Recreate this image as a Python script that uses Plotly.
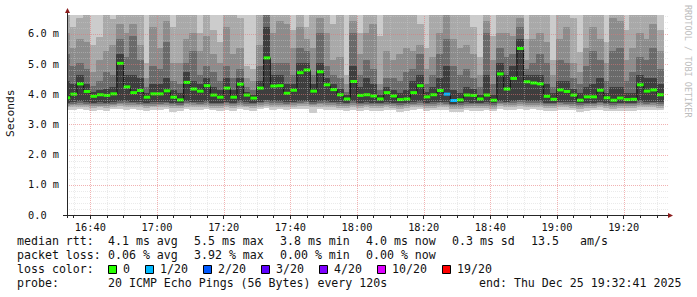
import plotly.graph_objects as go
import pandas as pd

# ---------------- data ----------------
interval_start = [t.strftime("%Y-%m-%d %H:%M:%S")
                  for t in pd.date_range("2025-12-25 16:32:00", periods=90, freq="2min")]
interval_end = [t.strftime("%Y-%m-%d %H:%M:%S")
                for t in pd.date_range("2025-12-25 16:34:00", periods=90, freq="2min")]
graph_start = "2025-12-25 16:33:00"
graph_end = "2025-12-25 19:33:00"

median_ms = [3.88, 4.00, 4.34, 4.09, 3.93, 3.98, 3.96, 4.01, 5.02, 4.24,
             4.05, 4.12, 3.90, 4.01, 4.01, 4.11, 3.90, 3.81, 4.39, 4.17,
             4.10, 4.28, 3.97, 3.90, 4.20, 3.90, 4.33, 3.97, 3.87, 4.20,
             5.20, 4.27, 4.28, 4.03, 4.13, 4.71, 4.80, 4.10, 4.74, 4.31,
             4.15, 3.98, 3.84, 4.42, 3.96, 3.98, 3.94, 3.84, 4.05, 3.94,
             3.82, 3.84, 4.05, 4.28, 3.91, 3.98, 4.12, 4.00, 3.79, 3.81,
             3.97, 3.96, 3.84, 3.97, 3.80, 4.67, 4.17, 4.52, 5.51, 4.41,
             4.37, 4.34, 3.93, 3.83, 4.14, 4.09, 3.97, 3.80, 3.91, 3.91,
             4.13, 3.88, 3.80, 3.87, 3.82, 3.83, 4.31, 4.10, 4.14, 3.98]

loss_pings = [0, 0, 0, 0, 0, 0, 0, 0, 0, 0,
              0, 0, 0, 0, 0, 0, 0, 0, 0, 0,
              0, 0, 0, 0, 0, 0, 0, 0, 0, 0,
              0, 0, 0, 0, 0, 0, 0, 0, 0, 0,
              0, 0, 0, 0, 0, 0, 0, 0, 0, 0,
              0, 0, 0, 0, 0, 0, 0, 1, 1, 0,
              0, 0, 0, 0, 0, 0, 0, 0, 0, 0,
              0, 0, 0, 0, 0, 0, 0, 0, 0, 0,
              0, 0, 0, 0, 0, 0, 0, 0, 0, 0]

# smoke: upper / lower edges of the ping bands (ms), outermost = 4, innermost = 0
up4 = [8.4, 7.9, 9.2, 8.8, 7.6, 8.1, 9.5, 7.8, 10.3, 8.9,
       9.6, 8.7, 7.4, 9.0, 8.6, 9.8, 7.9, 8.3, 9.1, 9.4,
       7.8, 8.9, 7.7, 7.5, 9.3, 8.2, 8.0, 7.3, 7.2, 9.0,
       11.2, 9.1, 9.6, 9.2, 7.9, 9.7, 8.1, 8.8, 10.1, 9.3,
       8.0, 8.7, 7.1, 9.9, 7.8, 8.9, 9.4, 7.6, 8.6, 8.8,
       9.0, 8.5, 8.8, 8.2, 7.4, 8.6, 9.4, 10.4, 9.1, 8.7,
       8.9, 7.9, 7.2, 9.8, 7.6, 9.5, 9.2, 9.0, 10.6, 7.7,
       9.1, 9.4, 8.8, 7.3, 9.0, 9.3, 8.2, 7.4, 8.9, 9.6,
       9.2, 7.6, 9.8, 9.6, 7.9, 8.7, 9.4, 9.0, 9.7, 8.0]
up3 = [7.10, 6.20, 6.50, 7.30, 5.60, 5.85, 7.20, 6.45, 7.60, 7.20,
       7.40, 7.10, 5.00, 7.30, 7.10, 7.50, 6.20, 7.00, 7.20, 7.30,
       6.00, 7.10, 6.10, 5.70, 7.40, 7.00, 6.50, 4.90, 4.80, 7.20,
       8.10, 7.20, 7.50, 7.30, 6.10, 7.40, 6.20, 7.10, 7.60, 7.20,
       6.30, 7.00, 4.60, 7.50, 6.00, 7.10, 7.30, 5.90, 7.00, 7.10,
       7.20, 7.00, 7.10, 6.30, 5.50, 7.00, 7.30, 7.80, 7.20, 7.00,
       7.10, 6.20, 5.20, 7.50, 5.90, 7.30, 7.20, 7.10, 7.70, 5.80,
       7.20, 7.30, 7.00, 5.10, 7.20, 7.30, 6.50, 5.35, 7.10, 7.40,
       7.20, 5.70, 7.50, 7.40, 6.10, 7.00, 7.30, 7.10, 7.40, 6.10]
up2 = [6.00, 5.50, 5.80, 5.70, 4.70, 5.10, 5.40, 5.60, 6.30, 6.00,
       6.30, 5.60, 4.50, 6.20, 5.50, 6.40, 5.00, 5.00, 5.80, 6.00,
       5.40, 5.90, 5.30, 5.00, 6.20, 5.30, 5.50, 4.50, 4.40, 5.60,
       7.00, 6.00, 6.40, 6.30, 5.50, 6.20, 5.80, 5.50, 6.50, 6.00,
       5.10, 5.20, 4.30, 6.40, 5.30, 6.00, 6.30, 4.30, 5.40, 5.10,
       5.30, 5.50, 5.40, 5.60, 4.80, 5.20, 6.00, 6.60, 5.80, 5.50,
       5.60, 5.30, 4.60, 6.40, 5.10, 6.00, 6.00, 5.90, 6.50, 5.10,
       5.80, 6.00, 5.70, 4.60, 5.80, 6.20, 5.00, 4.70, 5.50, 6.20,
       5.80, 5.00, 6.50, 6.40, 5.10, 5.50, 6.00, 5.80, 6.30, 5.40]
up1 = [5.30, 4.90, 5.00, 4.80, 4.25, 4.40, 4.70, 4.60, 5.80, 5.20,
       5.90, 5.10, 4.20, 4.90, 4.80, 5.70, 4.40, 4.30, 5.00, 5.40,
       4.60, 4.90, 4.70, 4.40, 4.90, 4.50, 4.80, 4.20, 4.10, 4.90,
       6.80, 5.00, 5.00, 5.00, 4.60, 5.50, 5.40, 4.60, 6.00, 4.90,
       4.60, 4.50, 4.05, 6.00, 4.60, 5.10, 4.80, 4.10, 4.50, 4.50,
       4.40, 4.70, 4.80, 5.30, 4.30, 4.60, 5.30, 5.80, 4.90, 4.60,
       4.80, 4.50, 4.20, 6.00, 4.30, 5.50, 5.20, 5.30, 6.20, 4.80,
       5.00, 5.30, 5.00, 4.20, 5.10, 5.00, 4.50, 4.30, 4.90, 5.40,
       5.10, 4.40, 5.40, 5.50, 4.40, 4.70, 5.20, 5.10, 5.50, 4.80]
up0 = [4.40, 4.30, 4.60, 4.30, 4.05, 4.10, 4.15, 4.20, 5.30, 4.60,
       4.60, 4.50, 4.00, 4.30, 4.30, 4.50, 4.10, 4.00, 4.70, 4.40,
       4.30, 4.50, 4.20, 4.10, 4.50, 4.10, 4.50, 4.05, 3.95, 4.40,
       6.20, 4.60, 4.60, 4.30, 4.30, 5.00, 5.00, 4.30, 5.00, 4.50,
       4.30, 4.15, 3.95, 4.90, 4.20, 4.50, 4.30, 3.95, 4.20, 4.10,
       4.00, 4.10, 4.40, 4.60, 4.05, 4.20, 4.50, 4.90, 4.10, 4.00,
       4.20, 4.15, 3.95, 4.60, 3.95, 5.00, 4.60, 4.90, 5.80, 4.60,
       4.60, 4.60, 4.30, 4.00, 4.40, 4.40, 4.15, 4.00, 4.20, 4.30,
       4.50, 4.00, 4.20, 4.20, 4.00, 4.00, 4.60, 4.50, 4.50, 4.30]
lo0 = [3.72, 3.74, 3.76, 3.74, 3.72, 3.73, 3.72, 3.74, 3.78, 3.76,
       3.75, 3.74, 3.71, 3.73, 3.74, 3.75, 3.71, 3.70, 3.77, 3.75,
       3.74, 3.76, 3.72, 3.71, 3.75, 3.72, 3.76, 3.73, 3.71, 3.75,
       3.80, 3.76, 3.76, 3.74, 3.75, 3.78, 3.79, 3.74, 3.78, 3.76,
       3.75, 3.73, 3.71, 3.77, 3.72, 3.73, 3.72, 3.71, 3.74, 3.72,
       3.70, 3.71, 3.74, 3.76, 3.72, 3.73, 3.75, 3.74, 3.69, 3.70,
       3.73, 3.72, 3.71, 3.73, 3.70, 3.78, 3.75, 3.77, 3.80, 3.76,
       3.76, 3.76, 3.72, 3.71, 3.75, 3.74, 3.73, 3.70, 3.72, 3.72,
       3.75, 3.72, 3.70, 3.72, 3.71, 3.71, 3.76, 3.74, 3.75, 3.73]
lo1 = [3.67, 3.69, 3.70, 3.69, 3.67, 3.68, 3.67, 3.69, 3.72, 3.70,
       3.70, 3.69, 3.66, 3.68, 3.69, 3.70, 3.66, 3.65, 3.71, 3.70,
       3.69, 3.70, 3.67, 3.66, 3.70, 3.67, 3.70, 3.68, 3.66, 3.70,
       3.74, 3.70, 3.70, 3.69, 3.70, 3.72, 3.73, 3.69, 3.72, 3.70,
       3.70, 3.68, 3.66, 3.71, 3.67, 3.68, 3.67, 3.66, 3.69, 3.67,
       3.65, 3.66, 3.69, 3.70, 3.67, 3.68, 3.70, 3.69, 3.64, 3.65,
       3.68, 3.67, 3.66, 3.68, 3.65, 3.72, 3.70, 3.71, 3.74, 3.70,
       3.70, 3.70, 3.67, 3.66, 3.70, 3.69, 3.68, 3.65, 3.67, 3.67,
       3.70, 3.67, 3.65, 3.67, 3.66, 3.66, 3.70, 3.69, 3.70, 3.68]
lo2 = [3.62, 3.63, 3.64, 3.64, 3.62, 3.62, 3.61, 3.64, 3.66, 3.65,
       3.64, 3.63, 3.61, 3.62, 3.64, 3.64, 3.60, 3.60, 3.66, 3.64,
       3.63, 3.65, 3.62, 3.60, 3.64, 3.61, 3.65, 3.62, 3.60, 3.64,
       3.68, 3.65, 3.64, 3.63, 3.65, 3.66, 3.67, 3.63, 3.66, 3.65,
       3.64, 3.62, 3.60, 3.65, 3.61, 3.63, 3.61, 3.60, 3.63, 3.61,
       3.59, 3.60, 3.63, 3.64, 3.61, 3.62, 3.64, 3.63, 3.58, 3.59,
       3.62, 3.61, 3.60, 3.62, 3.59, 3.66, 3.64, 3.65, 3.68, 3.64,
       3.64, 3.65, 3.61, 3.60, 3.64, 3.63, 3.62, 3.59, 3.61, 3.62,
       3.64, 3.61, 3.59, 3.61, 3.60, 3.60, 3.64, 3.63, 3.64, 3.62]
lo3 = [3.56, 3.57, 3.58, 3.57, 3.55, 3.56, 3.55, 3.58, 3.60, 3.58,
       3.58, 3.57, 3.54, 3.56, 3.57, 3.58, 3.53, 3.53, 3.59, 3.58,
       3.57, 3.58, 3.55, 3.54, 3.58, 3.55, 3.58, 3.56, 3.53, 3.58,
       3.61, 3.58, 3.58, 3.56, 3.58, 3.60, 3.60, 3.56, 3.59, 3.58,
       3.57, 3.55, 3.53, 3.58, 3.54, 3.56, 3.54, 3.53, 3.56, 3.55,
       3.52, 3.54, 3.56, 3.58, 3.54, 3.55, 3.57, 3.56, 3.51, 3.52,
       3.55, 3.54, 3.53, 3.55, 3.52, 3.60, 3.57, 3.58, 3.61, 3.57,
       3.58, 3.58, 3.54, 3.53, 3.57, 3.56, 3.55, 3.52, 3.54, 3.55,
       3.57, 3.54, 3.52, 3.54, 3.53, 3.53, 3.57, 3.56, 3.57, 3.55]
lo4 = [3.47, 3.49, 3.50, 3.46, 3.44, 3.48, 3.45, 3.50, 3.52, 3.49,
       3.50, 3.48, 3.43, 3.47, 3.49, 3.50, 3.42, 3.44, 3.51, 3.49,
       3.48, 3.50, 3.46, 3.44, 3.49, 3.45, 3.50, 3.47, 3.43, 3.50,
       3.53, 3.49, 3.50, 3.47, 3.50, 3.52, 3.51, 3.38, 3.50, 3.49,
       3.48, 3.46, 3.44, 3.49, 3.45, 3.47, 3.44, 3.43, 3.47, 3.46,
       3.40, 3.45, 3.47, 3.50, 3.45, 3.46, 3.48, 3.47, 3.41, 3.42,
       3.46, 3.45, 3.44, 3.46, 3.43, 3.51, 3.48, 3.49, 3.52, 3.48,
       3.50, 3.49, 3.45, 3.44, 3.48, 3.47, 3.46, 3.40, 3.45, 3.46,
       3.48, 3.45, 3.43, 3.45, 3.44, 3.44, 3.48, 3.47, 3.48, 3.46]

loss_labels = ["0", "1/20", "2/20", "3/20", "4/20", "10/20", "19/20"]
loss_colors = ["#26ff00", "#00b8ff", "#0059ff", "#5e00ff", "#7e00ff", "#dd00ff", "#ff0000"]

y_ticks = [0, 1, 2, 3, 4, 5, 6]
y_ticktext = ["0.0\u00a0\u00a0", "1.0 m", "2.0 m", "3.0 m", "4.0 m", "5.0 m", "6.0 m"]

legend_rows = [
    [("median rtt:", 16), ("4.1 ms avg", 107.3), ("5.5 ms max", 193.3), ("3.8 ms min", 279.3),
     ("4.0 ms now", 365), ("0.3 ms sd", 451), ("13.5", 530), ("am/s", 579.3)],
    [("packet loss:", 16), ("0.06 % avg", 107.3), ("3.92 % max", 193.3), ("0.00 % min", 279.3),
     ("0.00 % now", 365)],
    [("loss color:", 16)],
    [("probe:", 16), ("20 ICMP Echo Pings (56 Bytes) every 120s", 107.3),
     ("end: Thu Dec 25 19:32:41 2025", 478.3)],
]
legend_row_y = [241, 255, 269, 283.3]

# ---------------- geometry helpers ----------------
W, H = 697, 297
PL, PR, PT, PB = 67, 667, 15, 215
Y_MAX = 6.62
T0 = pd.Timestamp(graph_start)
T1 = pd.Timestamp(graph_end)


def fx(px):
    return (px - PL) / (PR - PL)


def fy(py):
    return (PB - py) / (PB - PT)


def val_to_py(v):
    return PB - v * (PB - PT) / Y_MAX


def time_to_px(t):
    return PL + (t - T0) / (T1 - T0) * (PR - PL)


MONO = "DejaVu Sans Mono"
fig = go.Figure()

band_colors = ["#cccccc", "#a9a9a9", "#8c8c8c", "#6a6a6a", "#3e3e3e"]
bands = [(lo4, up4), (lo3, up3), (lo2, up2), (lo1, up1), (lo0, up0)]
n = len(median_ms)
for (lo, hi), col in zip(bands, band_colors):
    fig.add_trace(go.Bar(
        x=interval_start, y=[h - l for h, l in zip(hi, lo)], base=lo,
        width=[120000] * n, offset=0,
        marker=dict(color=col, line=dict(width=1, color=col)),
        hoverinfo="skip", showlegend=False))

# median connecting step line
fig.add_trace(go.Scatter(
    x=interval_start + [interval_end[-1]], y=median_ms + [median_ms[-1]],
    mode="lines", line=dict(color="#141414", width=1, shape="hv"),
    hoverinfo="skip", showlegend=False))

# median marks coloured by loss (one trace per loss class, segments per interval)
for li, col in enumerate(loss_colors):
    xs, ys = [], []
    for s, e, m, l in zip(interval_start, interval_end, median_ms, loss_pings):
        if l == li:
            xs += [s, e, None]
            ys += [m, m, None]
    if xs:
        fig.add_trace(go.Scatter(x=xs, y=ys, mode="lines",
                                 line=dict(color=col, width=3),
                                 hoverinfo="skip", showlegend=False))

# ---------------- grid (drawn above the smoke like rrdtool) ----------------
shapes = []
minor_col = "rgba(205,205,205,0.42)"
major_col = "rgba(230,115,115,0.55)"
k = 1
while k * 0.2 < Y_MAX:
    v = round(k * 0.2, 2)
    is_major = abs(v - round(v)) < 1e-9
    yy = fy(round(val_to_py(v)) + 0.5)
    shapes.append(dict(type="line", xref="paper", yref="paper", x0=0, x1=fx(668), y0=yy, y1=yy,
                       line=dict(color=major_col if is_major else minor_col, width=1,
                                 dash="1px,1px"), layer="above"))
    k += 1
for t in pd.date_range("2025-12-25 16:35:00", "2025-12-25 19:30:00", freq="5min"):
    is_major = t.minute % 20 == 0
    xx = fx(round(time_to_px(t)) + 0.5)
    shapes.append(dict(type="line", xref="paper", yref="paper", x0=xx, x1=xx,
                       y0=0, y1=1,
                       line=dict(color=major_col if is_major else minor_col, width=1,
                                 dash="1px,1px"), layer="above"))

axis_col = "#262626"
arrow_col = "#8b1c1c"
# axis lines
shapes.append(dict(type="line", xref="paper", yref="paper", x0=fx(63), x1=fx(669),
                   y0=fy(215.5), y1=fy(215.5), line=dict(color=axis_col, width=1), layer="above"))
shapes.append(dict(type="line", xref="paper", yref="paper", x0=fx(67.5), x1=fx(67.5),
                   y0=fy(218), y1=fy(12), line=dict(color=axis_col, width=1), layer="above"))
# arrows
shapes.append(dict(type="path", xref="paper", yref="paper",
                   path=f"M {fx(65)} {fy(13)} L {fx(70)} {fy(13)} L {fx(67.5)} {fy(8)} Z",
                   fillcolor=arrow_col, line=dict(width=0), layer="above"))
shapes.append(dict(type="path", xref="paper", yref="paper",
                   path=f"M {fx(668)} {fy(213)} L {fx(668)} {fy(218)} L {fx(673)} {fy(215.5)} Z",
                   fillcolor=arrow_col, line=dict(width=0), layer="above"))

# loss colour legend boxes
annotations = []
bx = 108.3
for lab, col in zip(loss_labels, loss_colors):
    shapes.append(dict(type="rect", xref="paper", yref="paper",
                       x0=fx(round(bx) + 0.5), x1=fx(round(bx) + 8.5),
                       y0=fy(legend_row_y[2] + 4.5), y1=fy(legend_row_y[2] - 3.5),
                       fillcolor=col, line=dict(color="#000000", width=1), layer="above"))
    annotations.append(dict(text=lab, x=fx(bx + 12.5), y=fy(legend_row_y[2]),
                            xref="paper", yref="paper", xanchor="left", yanchor="middle",
                            showarrow=False, font=dict(family=MONO, size=11.6, color="#111")))
    bx += 30 + 7 * len(lab)

for row, ypx in zip(legend_rows, legend_row_y):
    for txt, xpx in row:
        annotations.append(dict(text=txt.replace(" ", "\u00a0"), x=fx(xpx - 1.5), y=fy(ypx),
                                xref="paper", yref="paper", xanchor="left", yanchor="middle",
                                showarrow=False, font=dict(family=MONO, size=11.6, color="#111")))

annotations.append(dict(text="Seconds", x=fx(10.5), y=fy(113.5), xref="paper", yref="paper",
                        textangle=-90, showarrow=False, xanchor="center", yanchor="middle",
                        font=dict(family=MONO, size=11.3, color="#111")))
annotations.append(dict(text="RRDTOOL / TOBI OETIKER", x=fx(688), y=fy(61), xref="paper",
                        yref="paper", textangle=90, showarrow=False, xanchor="center",
                        yanchor="middle", font=dict(family=MONO, size=8.5, color="#bdbdbd")))

fig.update_layout(
    width=W, height=H,
    margin=dict(l=PL, r=W - PR, t=PT, b=H - PB, pad=0),
    paper_bgcolor="white", plot_bgcolor="white",
    barmode="overlay", bargap=0,
    showlegend=False,
    shapes=shapes, annotations=annotations,
    xaxis=dict(type="date", range=[graph_start, graph_end], tickformat="%H:%M",
               tick0="2025-12-25 16:40:00", dtick=1200000,
               ticks="outside", ticklen=3, tickcolor=axis_col, tickwidth=1,
               minor=dict(dtick=300000, tick0="2025-12-25 16:40:00", ticks="outside",
                          ticklen=2, tickcolor=axis_col, showgrid=False),
               showgrid=False, zeroline=False, showline=False,
               tickfont=dict(family=MONO, size=10.3, color="#111")),
    yaxis=dict(range=[0, Y_MAX], tickvals=y_ticks, ticktext=y_ticktext, ticks="",
               showgrid=False, zeroline=False, showline=False, ticklabelstandoff=7,
               tickfont=dict(family=MONO, size=10.3, color="#111")),
)

fig.write_html("out.html")
